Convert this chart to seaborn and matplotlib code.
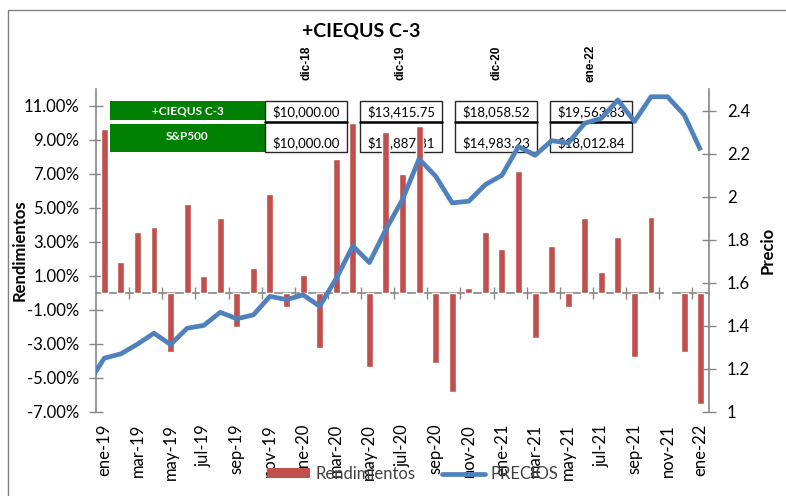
import numpy as np
import pandas as pd
import matplotlib
matplotlib.use('Agg')
import matplotlib.pyplot as plt
import matplotlib.ticker as mticker
from matplotlib.patches import Rectangle, Patch
from matplotlib.lines import Line2D
import seaborn as sns

# ---- data ----
meses = ['ene-19', 'feb-19', 'mar-19', 'abr-19', 'may-19', 'jun-19', 'jul-19',
         'ago-19', 'sep-19', 'oct-19', 'nov-19', 'dic-19', 'ene-20', 'feb-20',
         'mar-20', 'abr-20', 'may-20', 'jun-20', 'jul-20', 'ago-20', 'sep-20',
         'oct-20', 'nov-20', 'dic-20', 'ene-21', 'feb-21', 'mar-21', 'abr-21',
         'may-21', 'jun-21', 'jul-21', 'ago-21', 'sep-21', 'oct-21', 'nov-21',
         'dic-21', 'ene-22']

# monthly returns (%)
rendimientos = [9.67, 1.80, 3.60, 3.90, -3.45, 5.22, 1.00, 4.42, -2.02, 1.47,
                5.80, -0.80, 1.08, -3.22, 7.90, 10.00, -4.35, 9.50, 7.02, 9.85,
                -4.12, -5.80, 0.30, 3.60, 2.57, 7.20, -2.67, 2.75, -0.82, 4.42,
                1.25, 3.28, -3.75, 4.50, 0.08, -3.47, -6.53]

# price series, starting from the dic-18 base
precio_base = 1.13
precios = [1.250, 1.270, 1.315, 1.366, 1.313, 1.389, 1.402, 1.463, 1.433, 1.451,
           1.537, 1.522, 1.544, 1.491, 1.620, 1.771, 1.694, 1.848, 1.987, 2.175,
           2.095, 1.971, 1.979, 2.056, 2.099, 2.233, 2.192, 2.260, 2.249, 2.341,
           2.364, 2.449, 2.349, 2.464, 2.464, 2.380, 2.215]

fechas_tabla = ['dic-18', 'dic-19', 'dic-20', 'ene-22']
valores_ciequs = ['$10,000.00', '$13,415.75', '$18,058.52', '$19,563.83']
valores_sp500 = ['$10,000.00', '$12,887.81', '$14,983.23', '$18,012.84']

ROJO = '#C0504D'
AZUL = '#4F81BD'
VERDE = '#008000'
GRIS = '#868686'

sns.set_theme(style='white')
plt.rcParams['font.family'] = ['Lato', 'DejaVu Sans']

W, H = 786, 496


def fx(px):
    return px / W


def fy(py):
    return 1 - py / H


fig = plt.figure(figsize=(W / 100, H / 100), dpi=100)
fig.patch.set_facecolor('white')
ax = fig.add_axes([fx(96), fy(412), (709 - 96) / W, (412 - 89) / H])
ax.patch.set_visible(False)

# bars - monthly returns
df = pd.DataFrame({'pos': np.arange(len(meses)), 'rend': rendimientos})
sns.barplot(data=df, x='pos', y='rend', native_scale=True, color=ROJO,
            saturation=1, width=0.42, errorbar=None, ax=ax, zorder=2)

# line - prices on the secondary axis
ax2 = ax.twinx()
ax2.patch.set_visible(False)
x_precio = np.arange(-1, len(meses))
sns.lineplot(x=x_precio, y=[precio_base] + precios, ax=ax2, color=AZUL,
             linewidth=3.4, solid_joinstyle='round', solid_capstyle='butt')

ax.set_xlim(-0.5, len(meses) - 0.5)
ax.set_ylim(-7, 12)
ax2.set_ylim(1, 2.5)

# left axis
ax.set_yticks(np.arange(-7, 12, 2))
ax.yaxis.set_major_formatter(mticker.FuncFormatter(lambda v, p: f'{v:.2f}%'))
ax.tick_params(axis='y', direction='inout', length=10, width=1, color=GRIS,
               labelsize=12, pad=7, labelcolor='black')
ax.set_xticks(np.arange(0, len(meses), 2))
ax.set_xticklabels(meses[::2], rotation=90)
ax.tick_params(axis='x', length=0, labelsize=12, pad=8.5, labelcolor='black')
ax.set_xlabel('')
ax.set_ylabel('Rendimientos', fontsize=12, fontweight='bold', color='black')
ax.yaxis.set_label_coords((28 - 96) / (709 - 96), 0.5)
for s in ['top', 'right', 'bottom']:
    ax.spines[s].set_visible(False)
ax.spines['left'].set_color(GRIS)
ax.spines['left'].set_linewidth(1.2)

# horizontal axis crossing at zero
eje0 = ax.secondary_xaxis(7 / 19)
eje0.set_xticks(np.arange(1.5, len(meses) - 1, 2))
eje0.tick_params(direction='inout', length=8, width=1, color=GRIS,
                 labelbottom=False, labeltop=False)
for s in eje0.spines.values():
    s.set_color(GRIS)
    s.set_linewidth(1.2)

# right axis
ax2.set_yticks(np.arange(1, 2.41, 0.2))
ax2.yaxis.set_major_formatter(mticker.FuncFormatter(lambda v, p: f'{v:g}'))
ax2.tick_params(axis='y', direction='inout', length=10, width=1, color=GRIS,
                labelsize=12, pad=8, labelcolor='black')
ax2.set_ylabel('Precio', fontsize=12, fontweight='bold', color='black')
ax2.yaxis.set_label_coords((760 - 96) / (709 - 96), 0.5)
for s in ['top', 'left', 'bottom']:
    ax2.spines[s].set_visible(False)
ax2.spines['right'].set_color(GRIS)
ax2.spines['right'].set_linewidth(1.2)

# table of values behind the plot
tf = fig.transFigure
fig.add_artist(Rectangle((fx(110), fy(120)), (265 - 110) / W, 19 / H,
                         transform=tf, facecolor=VERDE, edgecolor='none', zorder=-2))
fig.add_artist(Rectangle((fx(110), fy(152)), (265 - 110) / W, 28 / H,
                         transform=tf, facecolor=VERDE, edgecolor='none', zorder=-2))
fig.text(fx(187.5), fy(111), '+CIEQUS C-3', color='white', fontsize=8.5,
         fontweight='bold', ha='center', va='center', zorder=-1)
fig.text(fx(187.5), fy(136), 'S&P500', color='white', fontsize=8.5,
         fontweight='bold', ha='center', va='center', zorder=-1)

for i, fecha in enumerate(fechas_tabla):
    izq = 265 + 95 * i
    centro = izq + 41
    fig.add_artist(Rectangle((fx(izq), fy(152)), 82 / W, 51 / H, transform=tf,
                             facecolor='white', edgecolor='#262626', lw=1, zorder=-2))
    fig.add_artist(Line2D([fx(izq), fx(izq + 82)], [fy(122), fy(122)],
                          transform=tf, color='black', lw=1.8, zorder=-1.5))
    fig.text(fx(centro), fy(111.5), valores_ciequs[i], fontsize=9.5,
             ha='center', va='center', color='black', zorder=-1)
    fig.text(fx(centro), fy(143), valores_sp500[i], fontsize=9.5,
             ha='center', va='center', color='black', zorder=-1)
    fig.text(fx(centro), fy(63), fecha, rotation=90, fontsize=8.5,
             fontweight='bold', family='Liberation Sans', ha='center',
             va='center', color='black')

fig.text(fx(361), fy(31), '+CIEQUS C-3', fontsize=14, fontweight='bold',
         ha='center', va='center', color='black')

# outer frame (left and top edges visible)
fig.add_artist(Line2D([fx(7.5), fx(7.5)], [fy(10), 0], transform=tf,
                      color='#808080', lw=1))
fig.add_artist(Line2D([fx(7.5), 1], [fy(10), fy(10)], transform=tf,
                      color='#808080', lw=1))

# legend
handles = [Patch(facecolor=ROJO, edgecolor='none'),
           Line2D([], [], color=AZUL, lw=3.4)]
fig.legend(handles, ['Rendimientos', 'PRECIOS'], loc='center left',
           bbox_to_anchor=(fx(267), fy(474)), ncol=2, frameon=False,
           fontsize=12, handlelength=2.6, handleheight=0.55,
           columnspacing=1.6, handletextpad=0.3, borderaxespad=0,
           borderpad=0, labelcolor='#404040')

fig.savefig('out.png', dpi=100)
